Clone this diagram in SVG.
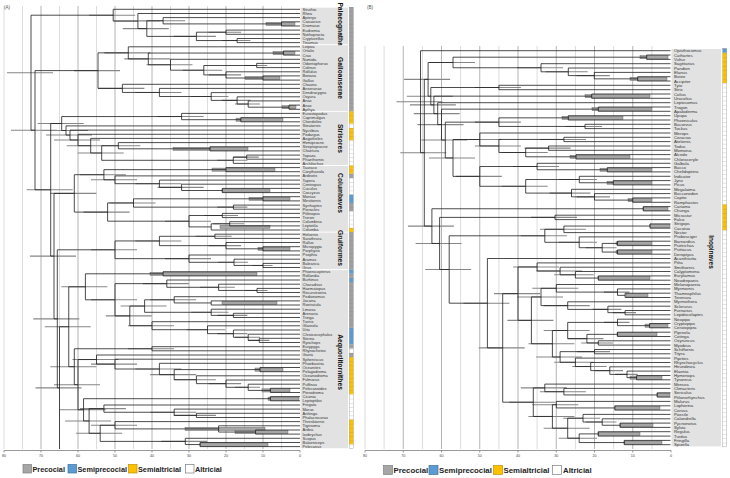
<svg xmlns="http://www.w3.org/2000/svg" width="730" height="478" viewBox="0 0 730 478">
<defs>
<style>
.g5{stroke:#dcdcdc;stroke-width:1}
.g10{stroke:#b4b4b4;stroke-width:1}
.tr{fill:none;stroke:#1e1e1e;stroke-width:0.8}
.wh{fill:none;stroke:#878787;stroke-width:1.1}
.hpd{fill:#a6a6a6;stroke:#5a5a5a;stroke-width:0.4}
.blk{fill:#e2e2e2}
.ta{font-family:"Liberation Sans",Arial,sans-serif;font-size:4px;fill:#333}
.tb{font-family:"Liberation Sans",Arial,sans-serif;font-size:4.3px;fill:#333}
.cl{font-family:"Liberation Sans",Arial,sans-serif;font-weight:bold;font-size:6.7px;fill:#111;text-anchor:middle}
.ax{stroke:#555;stroke-width:0.6;fill:none}
.axt{font-family:"Liberation Sans",Arial,sans-serif;font-size:3.6px;fill:#444;text-anchor:middle}
.lgA{font-family:"Liberation Sans",Arial,sans-serif;font-weight:bold;font-size:7.3px;fill:#222}
.lgB{font-family:"Liberation Sans",Arial,sans-serif;font-weight:bold;font-size:7.8px;fill:#222}
.pl{font-family:"Liberation Sans",Arial,sans-serif;font-size:4.6px;fill:#555}
.cP{fill:#a0a0a0}
.cB{fill:#5b9bd5}
.cY{fill:#ffc000}
.cW{fill:#ffffff}
.lbP{fill:#a6a6a6;stroke:#7f7f7f;stroke-width:0.7}
.lbB{fill:#5b9bd5;stroke:#41719c;stroke-width:0.7}
.lbY{fill:#ffc000;stroke:#bf9000;stroke-width:0.7}
.lbW{fill:#ffffff;stroke:#7f7f7f;stroke-width:0.7}
</style>
<pattern id="cellA" x="349.3" y="7.2" width="4" height="4.165" patternUnits="userSpaceOnUse"><path d="M0 0.15H4" stroke="#777" stroke-width="0.3"/></pattern>
<pattern id="cellB" x="722.7" y="48.5" width="4" height="4.33" patternUnits="userSpaceOnUse"><path d="M0 0.15H4" stroke="#777" stroke-width="0.3"/></pattern>
</defs>
<rect width="730" height="478" fill="#fff"/>

<g id="grid">
<path class="g5" d="M4 6V449M22.5 6V449M59.5 6V449M96.5 6V449M133.5 6V449M170.5 6V449M207.5 6V449M244.5 6V449M281.5 6V449"/>
<path class="g10" d="M41 6V449M78 6V449M115 6V449M152 6V449M189 6V449M226 6V449M263 6V449"/>
<path class="g5" d="M365 46V449M384.1 46V449M422.4 46V449M460.6 46V449M498.9 46V449M537.1 46V449M575.4 46V449M613.6 46V449M651.9 46V449"/>
<path class="g10" d="M403.25 46V449M441.5 46V449M479.75 46V449M518 46V449M556.25 46V449M594.5 46V449M632.75 46V449"/>
</g>

<text class="pl" x="4" y="9">(A)</text>
<text class="pl" x="367" y="9">(B)</text>

<g id="clade-palaeognathae"><rect class="blk" x="300.5" y="7.7" width="47.5" height="36.5"/><text class="cl" transform="translate(340,26) rotate(90)" y="2.4">Palaeognathae</text></g>
<g id="clade-galloanserae"><rect class="blk" x="300.5" y="45.2" width="47.5" height="65.7"/><text class="cl" transform="translate(340,78) rotate(90)" y="2.4">Galloanserae</text></g>
<g id="clade-strisores"><rect class="blk" x="300.5" y="111.8" width="47.5" height="53.2"/><text class="cl" transform="translate(340,138.4) rotate(90)" y="2.4">Strisores</text></g>
<g id="clade-columbaves"><rect class="blk" x="300.5" y="166" width="47.5" height="65.6"/><text class="cl" transform="translate(340,193) rotate(90)" y="2.4">Columbaves</text></g>
<g id="clade-gruiformes"><rect class="blk" x="300.5" y="232.6" width="47.5" height="36.5"/><text class="cl" transform="translate(340,248) rotate(90)" y="2.4">Gruiformes</text></g>
<g id="clade-aequorlitornithes"><rect class="blk" x="300.5" y="270.1" width="47.5" height="178.1"/><text class="cl" transform="translate(340,362) rotate(90)" y="2.4">Aequorlitornithes</text></g>
<g id="clade-inopinaves"><rect class="blk" x="671.5" y="49" width="49.5" height="397.4"/><text class="cl" transform="translate(711.5,252) rotate(90)" y="2.3" style="font-size:6.4px">Inopinaves</text></g>

<g id="hpd">
<path class="wh" d="M139.1 20.75H185.1M208.7 32.2H241.1M221.8 40.55H250.5M173.8 36.4H215.9M122.8 28.6H168.8M113.9 21.05H159.9M89.2 15.2H135.2M244.9 65.5H267.2M208.7 74.9H241.1M182.5 70.2H222.2M146.5 64.75H192.5M124.3 58.9H170.3M104.3 52.85H150.3M234.9 104.05H260M221.8 100.4H250.5M191.2 96.5H228.5M135.4 92.45H181.4M98.4 88.4H144.4M74 70.6H120M7 72.7H53M11 130.2H57M26.7 189.8H72.7M30 256.1H76M33.3 318.85H79.3M35.5 387.9H81.5M157.6 116.55H203.6M233.1 157.15H258.7M217.3 160.3H247.3M94.3 145.7H140.3M77.7 153H123.7M66.7 145.7H112.7M54 140H100M46 135.05H92M42 130.5H88M37.7 123.5H83.7M157.6 187.35H203.6M135.4 183.7H181.4M91 179.8H137M79.9 174.7H125.9M217.4 207.15H247.4M109.5 202.95H155.5M204.3 215.5H238M213 223.8H244.2M165 221.2H211M83.6 212.1H129.6M50.3 193.4H96.3M195.6 236.3H231.7M208.7 245.65H241.1M135.4 240.95H181.4M252.3 265.45H272.6M218.1 262.3H247.9M165 258.65H211M91 249.8H137M245.3 290.45H267.5M199.9 287.3H234.8M142.8 283.65H188.8M150.2 299.8H196.2M217.4 315.4H247.4M191.2 312.3H228.5M120.6 306.05H166.6M248 340.4H269.4M234.9 337.3H260M217.4 333.65H247.4M186.8 329.7H225.4M128 325.7H174M105.8 315.9H151.8M91 299.8H137M61.4 286.8H107.4M128 348.75H174M234.9 387.3H260M208.7 383.65H241.1M173.8 379.7H215.9M150.2 374.65H196.2M135.4 369H181.4M91 364.1H137M72.5 359.55H118.5M173.8 415.4H215.9M150.2 412.25H196.2M79.9 408.6H125.9M91 425.25H137M161.3 441.4H207.3M76.2 433.3H122.2M65.1 420.95H111.1M59.6 409.8H105.6M54 384.7H100M50.3 366.7H96.3M44.75 326.75H90.75"/>
<path class="wh" d="M396.5 101.7H442.5M400.3 152.7H446.3M404.1 79.35H450.1M406.8 96.2H452.8M409.9 104.9H455.9M413.7 113.65H459.7M417.5 124.6H463.5M421.3 140.05H467.3M429 157.95H475M429 62.5H475M474.9 87.5H520.9M474.9 122.15H520.9M565.5 126.45H601.9M455.8 139.5H501.8M474.9 145.95H520.9M539.9 139.45H585.9M524.6 148.15H570.6M501.7 152.5H547.7M455.8 176.4H501.8M513.1 166.5H559.1M501.7 186.3H547.7M558.8 179.5H597.1M576.7 196.85H610M549.6 193.1H590.4M576.5 75.6H609.8M545.8 71.8H587.7M517 67.75H563M407.9 226.1H453.9M415.6 243.45H461.6M425.2 269.5H471.2M531 217.4H577M539.9 229.3H585.9M585.8 247.7H616.5M558.8 242.3H597M520.8 235.8H566.8M463.4 303.2H509.4M478.7 347.9H524.7M494 293.65H540M513.1 266.95H559.1M536.1 271H582.1M554.2 274.8H593.7M507.4 320.35H553.4M517 296.95H563M532.3 288.3H578.3M603.9 292.1H629.5M543.7 305.6H589.7M592.5 309.4H621.4M612.8 312.65H636M528.4 343.75H574.4M543.7 330.5H589.7M603.9 322.4H629.5M567.8 338.65H603.5M581.2 342.95H613.2M536.1 357H582.1M576.7 351.65H610M554.2 362.3H593.7M572.2 366.55H606.7M594.8 370.6H623M615.1 374.4H637.6M509.3 402.2H555.3M520.8 387.9H566.8M539.9 391.7H585.9M528.4 416.45H574.4M532.3 404.7H578.3M543.7 428.2H589.7M563.2 418.2H600.2M585.8 422H616.5M558.8 438.2H597"/>
<rect class="hpd" x="266" y="22.3" width="29" height="3.2"/>
<rect class="hpd" x="273" y="51.45" width="22" height="3.2"/>
<rect class="hpd" x="245" y="76.4" width="35" height="3.2"/>
<rect class="hpd" x="282" y="105.6" width="14" height="3.2"/>
<rect class="hpd" x="236" y="118.1" width="47" height="3.2"/>
<rect class="hpd" x="173" y="147.2" width="75" height="3.2"/>
<rect class="hpd" x="212" y="168.05" width="63" height="3.2"/>
<rect class="hpd" x="222" y="188.9" width="48" height="3.2"/>
<rect class="hpd" x="249" y="197.2" width="41" height="3.2"/>
<rect class="hpd" x="220" y="225.3" width="50" height="3.2"/>
<rect class="hpd" x="258" y="247.2" width="32" height="3.2"/>
<rect class="hpd" x="150" y="272.2" width="107" height="3.2"/>
<rect class="hpd" x="222" y="301.35" width="55" height="3.2"/>
<rect class="hpd" x="255" y="368" width="28" height="3.2"/>
<rect class="hpd" x="262" y="388.8" width="28" height="3.2"/>
<rect class="hpd" x="268" y="397.1" width="31" height="3.2"/>
<rect class="hpd" x="185" y="427.3" width="80" height="3.2"/>
<rect class="hpd" x="235" y="430.45" width="53" height="3.2"/>
<rect class="hpd" x="200" y="442.95" width="68" height="3.2"/>
<rect class="hpd" x="640" y="55.6" width="28" height="3.2"/>
<rect class="hpd" x="630" y="77.25" width="37" height="3.2"/>
<rect class="hpd" x="585" y="94.55" width="65" height="3.2"/>
<rect class="hpd" x="592" y="107.55" width="60" height="3.2"/>
<rect class="hpd" x="562" y="116.25" width="61" height="3.2"/>
<rect class="hpd" x="570" y="155.2" width="60" height="3.2"/>
<rect class="hpd" x="600" y="168.15" width="52" height="3.2"/>
<rect class="hpd" x="607" y="181.15" width="45" height="3.2"/>
<rect class="hpd" x="628" y="198.5" width="24" height="3.2"/>
<rect class="hpd" x="643" y="207.15" width="25" height="3.2"/>
<rect class="hpd" x="650" y="224.45" width="20" height="3.2"/>
<rect class="hpd" x="616" y="241.8" width="36" height="3.2"/>
<rect class="hpd" x="616" y="250.45" width="36" height="3.2"/>
<rect class="hpd" x="598" y="276.45" width="52" height="3.2"/>
<rect class="hpd" x="626" y="293.75" width="22" height="3.2"/>
<rect class="hpd" x="645" y="324.05" width="23" height="3.2"/>
<rect class="hpd" x="617" y="332.75" width="40" height="3.2"/>
<rect class="hpd" x="630" y="376.05" width="32" height="3.2"/>
<rect class="hpd" x="657" y="393.35" width="13" height="3.2"/>
<rect class="hpd" x="615" y="406.35" width="45" height="3.2"/>
<rect class="hpd" x="620" y="423.65" width="33" height="3.2"/>
<rect class="hpd" x="598" y="432.3" width="42" height="3.2"/>
<rect class="hpd" x="624" y="440.95" width="38" height="3.2"/>
</g>

<g id="connectors">
<path class="tr" d="M300 21.8H281.5V26H300M300 17.6H163.1V23.9H281.5M300 30.1H226V34.3H300M300 38.5H237.1V42.6H300M226 32.2H196.4V40.55H237.1M163.1 20.75H146.8V36.4H196.4M300 13.5H137.9V28.6H146.8M300 9.3H113.2V21.05H137.9M300 51H283.4V55.1H300M300 63.4H256.7V67.6H300M300 75.9H263V80.1H300M300 71.8H226V78H263M256.7 65.5H203.8V74.9H226M300 59.3H170.5V70.2H203.8M283.4 53.05H148.3V64.75H170.5M300 46.8H128.3V58.9H148.3M300 105.1H289V109.3H300M300 100.9H248.2V107.2H289M300 96.8H237.1V104.05H248.2M300 92.6H211.2V100.4H237.1M300 88.4H159.4V96.5H211.2M300 84.3H122.4V92.45H159.4M128.3 52.85H98V88.4H122.4"/>
<path class="tr" d="M300 117.6H240.8V121.8H300M300 113.4H181.6V119.7H240.8M300 155.1H246.7V159.2H300M246.7 157.15H233.3V163.4H300M300 146.7H210V150.9H300M300 142.6H118.3V148.8H210M118.3 145.7H101.7V160.3H233.3M300 138.4H90.7V153H101.7M300 134.3H78V145.7H90.7M300 130.1H70V140H78M300 125.9H66V135.05H70M181.6 116.55H61.7V130.5H66"/>
<path class="tr" d="M300 167.6H226V171.7H300M300 188.4H222.3V192.6H300M300 184.2H181.6V190.5H222.3M300 180.1H159.4V187.35H181.6M300 175.9H115V183.7H159.4M226 169.65H103.9V179.8H115M300 196.7H263V200.9H300M300 205.1H233.4V209.2H300M263 198.8H133.5V207.15H233.4M300 213.4H222.3V217.6H300M300 221.7H229.7V225.9H300M229.7 223.8H211.2V230H300M222.3 215.5H189V226.9H211.2M133.5 202.95H107.6V221.2H189M103.9 174.7H74.3V212.1H107.6"/>
<path class="tr" d="M300 234.2H214.9V238.4H300M300 246.7H263V250.9H300M300 242.5H226V248.8H263M214.9 236.3H159.4V245.65H226M300 263.4H263V267.5H300M300 259.2H234V265.45H263M300 255H189V262.3H234M159.4 240.95H115V258.65H189"/>
<path class="tr" d="M300 271.7H163.1V275.9H300M300 288.4H257V292.5H300M300 284.2H218.6V290.45H257M300 280H166.8V287.3H218.6M300 300.9H211.2V305H300M300 296.7H174.2V302.95H211.2M300 313.3H233.4V317.5H300M300 309.2H211.2V315.4H233.4M174.2 299.8H144.6V312.3H211.2M300 338.3H259.3V342.5H300M300 334.2H248.2V340.4H259.3M300 330H233.4V337.3H248.2M300 325.8H207.5V333.65H233.4M300 321.7H152V329.7H207.5M144.6 306.05H129.8V325.7H152M166.8 283.65H115V315.9H129.8M163.1 273.8H85.4V299.8H115M300 346.7H152V350.8H300M300 367.5H260V371.7H300M300 388.3H270.4V392.5H300M300 384.2H248.2V390.4H270.4M300 380H226V387.3H248.2M300 375.8H196.4V383.65H226M260 369.6H174.2V379.7H196.4M300 363.3H159.4V374.65H174.2M300 359.2H115V369H159.4M300 355H96.5V364.1H115M300 396.6H270.4V400.8H300M300 413.3H196.4V417.5H300M300 409.1H174.2V415.4H196.4M300 405H103.9V412.25H174.2M300 430H255.6V434.1H300M300 425.8H218.6V432.05H255.6M300 421.6H115V428.9H218.6M300 442.5H200.1V446.6H300M300 438.3H185.3V444.55H200.1M115 425.25H100.2V441.4H185.3M103.9 408.6H89.1V433.3H100.2M270.4 398.7H83.55V420.95H89.1M96.5 359.55H78V409.8H83.55M152 348.75H74.3V384.7H78M85.4 286.8H68.75V366.7H74.3"/>
<path class="tr" d="M68.75 326.75H59.5V449M115 249.8H57.3V387.9H59.5M74.3 193.4H54V318.85H57.3M61.7 123.5H50.7V256.1H54M98 70.6H35V189.8H50.7M113.2 15.2H31V130.2H35"/>
<path class="tr" d="M670.5 55H646.7V59.4H670.5M670.5 76.7H637.7V81H670.5M670.5 72.4H594.3V78.85H637.7M670.5 68H568.3V75.6H594.3M670.5 63.7H541V71.8H568.3M646.7 57.2H453V67.75H541M670.5 85.3H498.9V89.7H670.5M670.5 94H591.7V98.3H670.5M670.5 107H598.3V111.3H670.5M670.5 115.7H568.3V120H670.5M670.5 124.3H585V128.6H670.5M568.3 117.85H498.9V126.45H585M670.5 137.3H563.9V141.6H670.5M670.5 146H548.6V150.3H670.5M670.5 154.6H576V159H670.5M548.6 148.15H525.7V156.8H576M563.9 139.45H498.9V152.5H525.7M670.5 133H479.8V145.95H498.9M670.5 167.6H607.3V171.9H670.5M670.5 163.3H537.1V169.75H607.3M670.5 180.6H613.3V184.9H670.5M670.5 176.3H579.3V182.75H613.3M670.5 197.9H632.7V202.3H670.5M670.5 193.6H594.5V200.1H632.7M670.5 189.3H571.5V196.85H594.5M579.3 179.5H525.7V193.1H571.5M537.1 166.5H479.8V186.3H525.7M479.8 139.5H453V176.4H479.8M498.9 122.15H445.3V157.95H453M598.3 109.15H441.5V140.05H445.3M670.5 102.7H437.7V124.6H441.5M591.7 96.15H433.9V113.65H437.7M498.9 87.5H430.8V104.9H433.9M453 62.5H428.1V96.2H430.8"/>
<path class="tr" d="M670.5 206.6H643.3V210.9H670.5M670.5 215.2H555V219.6H670.5M670.5 223.9H650V228.2H670.5M650 226.05H563.9V232.6H670.5M670.5 241.2H617.5V245.6H670.5M670.5 249.9H617.5V254.2H670.5M617.5 243.4H602.2V252.05H617.5M670.5 236.9H579.2V247.7H602.2M563.9 229.3H544.8V242.3H579.2M670.5 275.9H598.3V280.2H670.5M670.5 271.5H575.4V278.05H598.3M670.5 267.2H560.1V274.8H575.4M670.5 262.9H537.1V271H560.1M670.5 293.2H625.1V297.5H670.5M670.5 288.9H617.5V295.35H625.1M670.5 284.5H556.3V292.1H617.5M670.5 310.5H625.1V314.8H670.5M670.5 306.2H607.9V312.65H625.1M670.5 301.8H567.7V309.4H607.9M556.3 288.3H541V305.6H567.7M670.5 323.5H649.6V327.8H670.5M670.5 319.2H617.5V325.65H649.6M670.5 332.2H617.5V336.5H670.5M670.5 340.8H598.3V345.1H670.5M617.5 334.35H586.9V342.95H598.3M617.5 322.4H567.7V338.65H586.9M670.5 349.5H594.5V353.8H670.5M670.5 375.5H636.6V379.8H670.5M670.5 371.1H627V377.65H636.6M670.5 366.8H609.8V374.4H627M670.5 362.5H590.7V370.6H609.8M670.5 358.1H575.4V366.55H590.7M594.5 351.65H560.1V362.3H575.4M567.7 330.5H552.4V357H560.1M541 296.95H531.4V343.75H552.4M537.1 266.95H518V320.35H531.4M670.5 392.8H657.2V397.1H670.5M670.5 388.4H563.9V394.95H657.2M670.5 384.1H544.8V391.7H563.9M670.5 405.8H614.8V410.1H670.5M670.5 401.4H556.3V407.95H614.8M670.5 423.1H620.1V427.4H670.5M670.5 418.8H602.2V425.25H620.1M670.5 414.4H583V422H602.2M670.5 431.7H598.3V436.1H670.5M670.5 440.4H624.3V444.7H670.5M598.3 433.9H579.2V442.55H624.3M583 418.2H567.7V438.2H579.2M556.3 404.7H552.4V428.2H567.7M544.8 387.9H533.3V416.45H552.4M518 293.65H502.7V402.2H533.3M670.5 258.5H487.4V347.9H502.7M544.8 235.8H449.2V303.2H487.4M555 217.4H439.6V269.5H449.2M643.3 208.75H431.9V243.45H439.6M428.1 79.35H424.3V226.1H431.9M670.5 50.7H420.5V152.7H424.3"/>
</g>

<g id="taxa-A" class="ta">
<text x="302.5" y="10.7">Struthio</text><text x="302.5" y="14.9">Rhea</text><text x="302.5" y="19">Apteryx</text><text x="302.5" y="23.2">Casuarius</text><text x="302.5" y="27.4">Dromaius</text><text x="302.5" y="31.5">Eudromia</text><text x="302.5" y="35.7">Nothoprocta</text><text x="302.5" y="39.9">Crypturellus</text><text x="302.5" y="44">Tinamus</text>
<text x="302.5" y="48.2">Leipoa</text><text x="302.5" y="52.4">Ortalis</text><text x="302.5" y="56.5">Crax</text><text x="302.5" y="60.7">Numida</text><text x="302.5" y="64.8">Odontophorus</text><text x="302.5" y="69">Colinus</text><text x="302.5" y="73.2">Rollulus</text><text x="302.5" y="77.3">Bonasa</text><text x="302.5" y="81.5">Gallus</text><text x="302.5" y="85.7">Chauna</text><text x="302.5" y="89.8">Anseranas</text><text x="302.5" y="94">Dendrocygna</text><text x="302.5" y="98.2">Oxyura</text><text x="302.5" y="102.3">Anas</text><text x="302.5" y="106.5">Anas</text><text x="302.5" y="110.7">Aythya</text>
<text x="302.5" y="114.8">Eurostopodus</text><text x="302.5" y="119">Caprimulgus</text><text x="302.5" y="123.2">Chordeiles</text><text x="302.5" y="127.3">Steatornis</text><text x="302.5" y="131.5">Nyctibius</text><text x="302.5" y="135.7">Podargus</text><text x="302.5" y="139.8">Aegotheles</text><text x="302.5" y="144">Hemiprocne</text><text x="302.5" y="148.1">Streptoprocne</text><text x="302.5" y="152.3">Chaetura</text><text x="302.5" y="156.5">Topaza</text><text x="302.5" y="160.6">Phaethornis</text><text x="302.5" y="164.8">Archilochus</text>
<text x="302.5" y="169">Tauraco</text><text x="302.5" y="173.1">Corythaeola</text><text x="302.5" y="177.3">Ardeotis</text><text x="302.5" y="181.5">Tapera</text><text x="302.5" y="185.6">Centropus</text><text x="302.5" y="189.8">Cuculus</text><text x="302.5" y="194">Coccyzus</text><text x="302.5" y="198.1">Monias</text><text x="302.5" y="202.3">Mesitornis</text><text x="302.5" y="206.5">Syrrhaptes</text><text x="302.5" y="210.6">Pterocles</text><text x="302.5" y="214.8">Ptilinopus</text><text x="302.5" y="219">Treron</text><text x="302.5" y="223.1">Columbina</text><text x="302.5" y="227.3">Leptotila</text><text x="302.5" y="231.4">Columba</text>
<text x="302.5" y="235.6">Heliornis</text><text x="302.5" y="239.8">Sarothrura</text><text x="302.5" y="243.9">Rallus</text><text x="302.5" y="248.1">Micropygia</text><text x="302.5" y="252.3">Porphyrio</text><text x="302.5" y="256.4">Psophia</text><text x="302.5" y="260.6">Aramus</text><text x="302.5" y="264.8">Balearica</text><text x="302.5" y="268.9">Grus</text>
<text x="302.5" y="273.1">Phoenicopterus</text><text x="302.5" y="277.3">Rollandia</text><text x="302.5" y="281.4">Burhinus</text><text x="302.5" y="285.6">Charadrius</text><text x="302.5" y="289.8">Haematopus</text><text x="302.5" y="293.9">Recurvirostra</text><text x="302.5" y="298.1">Pedionomus</text><text x="302.5" y="302.3">Jacana</text><text x="302.5" y="306.4">Rostratula</text><text x="302.5" y="310.6">Limosa</text><text x="302.5" y="314.7">Arenaria</text><text x="302.5" y="318.9">Tringa</text><text x="302.5" y="323.1">Turnix</text><text x="302.5" y="327.2">Glareola</text><text x="302.5" y="331.4">Uria</text><text x="302.5" y="335.6">Chroicocephalus</text><text x="302.5" y="339.7">Sterna</text><text x="302.5" y="343.9">Rynchops</text><text x="302.5" y="348.1">Eurypyga</text><text x="302.5" y="352.2">Rhynochetos</text><text x="302.5" y="356.4">Gavia</text><text x="302.5" y="360.6">Spheniscus</text><text x="302.5" y="364.7">Phoebastria</text><text x="302.5" y="368.9">Oceanites</text><text x="302.5" y="373.1">Pelagodroma</text><text x="302.5" y="377.2">Oceanodroma</text><text x="302.5" y="381.4">Fulmarus</text><text x="302.5" y="385.6">Puffinus</text><text x="302.5" y="389.7">Pelecanoides</text><text x="302.5" y="393.9">Pterodroma</text><text x="302.5" y="398">Ciconia</text><text x="302.5" y="402.2">Leptoptilos</text><text x="302.5" y="406.4">Fregata</text><text x="302.5" y="410.5">Morus</text><text x="302.5" y="414.7">Anhinga</text><text x="302.5" y="418.9">Phalacrocorax</text><text x="302.5" y="423">Threskiornis</text><text x="302.5" y="427.2">Tigrisoma</text><text x="302.5" y="431.4">Ardea</text><text x="302.5" y="435.5">Ixobrychus</text><text x="302.5" y="439.7">Scopus</text><text x="302.5" y="443.9">Balaeniceps</text><text x="302.5" y="448">Pelecanus</text>
</g>

<g id="taxa-B" class="tb">
<text x="674" y="52.2">Opisthocomus</text><text x="674" y="56.5">Cathartes</text><text x="674" y="60.9">Vultur</text><text x="674" y="65.2">Sagittarius</text><text x="674" y="69.5">Pandion</text><text x="674" y="73.9">Elanus</text><text x="674" y="78.2">Buteo</text><text x="674" y="82.5">Accipiter</text><text x="674" y="86.8">Tyto</text><text x="674" y="91.2">Strix</text><text x="674" y="95.5">Colius</text><text x="674" y="99.8">Urocolius</text><text x="674" y="104.2">Leptosomus</text><text x="674" y="108.5">Trogon</text><text x="674" y="112.8">Apaloderma</text><text x="674" y="117.2">Upupa</text><text x="674" y="121.5">Phoeniculus</text><text x="674" y="125.8">Bucorvus</text><text x="674" y="130.1">Tockus</text><text x="674" y="134.5">Merops</text><text x="674" y="138.8">Coracias</text><text x="674" y="143.1">Atelornis</text><text x="674" y="147.5">Todus</text><text x="674" y="151.8">Momotus</text><text x="674" y="156.1">Alcedo</text><text x="674" y="160.5">Chloroceryle</text><text x="674" y="164.8">Galbula</text><text x="674" y="169.1">Bucco</text><text x="674" y="173.4">Chelidoptera</text><text x="674" y="177.8">Indicator</text><text x="674" y="182.1">Jynx</text><text x="674" y="186.4">Picus</text><text x="674" y="190.8">Megalaima</text><text x="674" y="195.1">Buccanodon</text><text x="674" y="199.4">Capito</text><text x="674" y="203.8">Ramphastos</text>
<text x="674" y="208.1">Cariama</text><text x="674" y="212.4">Chunga</text><text x="674" y="216.7">Micrastur</text><text x="674" y="221.1">Falco</text><text x="674" y="225.4">Strigops</text><text x="674" y="229.7">Cacatua</text><text x="674" y="234.1">Nestor</text><text x="674" y="238.4">Probosciger</text><text x="674" y="242.7">Barnardius</text><text x="674" y="247.1">Psittrichas</text><text x="674" y="251.4">Psittacus</text><text x="674" y="255.7">Deroptyus</text><text x="674" y="260">Acanthisitta</text><text x="674" y="264.4">Pitta</text><text x="674" y="268.7">Smithornis</text><text x="674" y="273">Calyptomena</text><text x="674" y="277.4">Eurylaimus</text><text x="674" y="281.7">Neodrepanis</text><text x="674" y="286">Melanopareia</text><text x="674" y="290.4">Myrmornis</text><text x="674" y="294.7">Thamnophilus</text><text x="674" y="299">Terenura</text><text x="674" y="303.3">Myrmothera</text><text x="674" y="307.7">Sclerurus</text><text x="674" y="312">Furnarius</text><text x="674" y="316.3">Lepidocolaptes</text><text x="674" y="320.7">Neopipo</text><text x="674" y="325">Cryptopipo</text><text x="674" y="329.3">Ceratopipra</text><text x="674" y="333.7">Pipreola</text><text x="674" y="338">Cotinga</text><text x="674" y="342.3">Oxyruncus</text><text x="674" y="346.6">Myiobius</text><text x="674" y="351">Schiffornis</text><text x="674" y="355.3">Tityra</text><text x="674" y="359.6">Piprites</text><text x="674" y="364">Rhynchocyclus</text><text x="674" y="368.3">Hirundinea</text><text x="674" y="372.6">Elaenia</text><text x="674" y="377">Hymenops</text><text x="674" y="381.3">Tyrannus</text><text x="674" y="385.6">Menura</text><text x="674" y="389.9">Climacteris</text><text x="674" y="394.3">Sericulus</text><text x="674" y="398.6">Ptilonorhynchus</text><text x="674" y="402.9">Malurus</text><text x="674" y="407.3">Lophorina</text><text x="674" y="411.6">Corvus</text><text x="674" y="415.9">Poecile</text><text x="674" y="420.3">Calandrella</text><text x="674" y="424.6">Pycnonotus</text><text x="674" y="428.9">Sylvia</text><text x="674" y="433.2">Regulus</text><text x="674" y="437.6">Turdus</text><text x="674" y="441.9">Fringilla</text><text x="674" y="446.2">Spizella</text>
</g>

<g id="development-A">
<rect class="cP" x="349.3" y="7.2" width="4" height="104.1"/>
<rect class="cY" x="349.3" y="111.3" width="4" height="12.5"/>
<rect class="cW" x="349.3" y="123.8" width="4" height="4.2"/>
<rect class="cY" x="349.3" y="128" width="4" height="12.5"/>
<rect class="cW" x="349.3" y="140.5" width="4" height="25"/>
<rect class="cY" x="349.3" y="165.5" width="4" height="8.3"/>
<rect class="cP" x="349.3" y="173.8" width="4" height="4.2"/>
<rect class="cW" x="349.3" y="178" width="4" height="16.6"/>
<rect class="cB" x="349.3" y="194.6" width="4" height="8.35"/>
<rect class="cP" x="349.3" y="202.95" width="4" height="8.35"/>
<rect class="cW" x="349.3" y="211.3" width="4" height="16.65"/>
<rect class="cY" x="349.3" y="227.95" width="4" height="4.15"/>
<rect class="cP" x="349.3" y="232.1" width="4" height="37.5"/>
<rect class="cB" x="349.3" y="269.6" width="4" height="4.2"/>
<rect class="cP" x="349.3" y="273.8" width="4" height="4.1"/>
<rect class="cB" x="349.3" y="277.9" width="4" height="4.2"/>
<rect class="cP" x="349.3" y="282.1" width="4" height="45.8"/>
<rect class="cB" x="349.3" y="327.9" width="4" height="16.7"/>
<rect class="cP" x="349.3" y="344.6" width="4" height="4.1"/>
<rect class="cW" x="349.3" y="348.7" width="4" height="4.2"/>
<rect class="cP" x="349.3" y="352.9" width="4" height="4.2"/>
<rect class="cY" x="349.3" y="357.1" width="4" height="37.4"/>
<rect class="cW" x="349.3" y="394.5" width="4" height="25"/>
<rect class="cY" x="349.3" y="419.5" width="4" height="25"/>
<rect class="cW" x="349.3" y="444.5" width="4" height="4.2"/>
<rect x="349.3" y="7.2" width="4" height="441.5" fill="url(#cellA)" stroke="#777" stroke-width="0.3"/>
</g>
<g id="development-B">
<rect class="cB" x="722.7" y="48.5" width="4" height="4.3"/>
<rect class="cY" x="722.7" y="52.8" width="4" height="30.3"/>
<rect class="cW" x="722.7" y="83.1" width="4" height="121.3"/>
<rect class="cY" x="722.7" y="204.4" width="4" height="26"/>
<rect class="cW" x="722.7" y="230.4" width="4" height="216.5"/>
<rect x="722.7" y="48.5" width="4" height="398.4" fill="url(#cellB)" stroke="#777" stroke-width="0.3"/>
</g>

<g id="axis-A">
<path class="ax" d="M4 450.5H300M4 450.5v2M41 450.5v2M78 450.5v2M115 450.5v2M152 450.5v2M189 450.5v2M226 450.5v2M263 450.5v2M300 450.5v2"/>
<text class="axt" x="4" y="457">80</text><text class="axt" x="41" y="457">70</text><text class="axt" x="78" y="457">60</text><text class="axt" x="115" y="457">50</text><text class="axt" x="152" y="457">40</text><text class="axt" x="189" y="457">30</text><text class="axt" x="226" y="457">20</text><text class="axt" x="263" y="457">10</text><text class="axt" x="300" y="457">0</text>
</g>
<g id="axis-B">
<path class="ax" d="M365 450.5H671M365 450.5v2M403.25 450.5v2M441.5 450.5v2M479.75 450.5v2M518 450.5v2M556.25 450.5v2M594.5 450.5v2M632.75 450.5v2M671 450.5v2"/>
<text class="axt" x="365" y="457">80</text><text class="axt" x="403.25" y="457">70</text><text class="axt" x="441.5" y="457">60</text><text class="axt" x="479.75" y="457">50</text><text class="axt" x="518" y="457">40</text><text class="axt" x="556.25" y="457">30</text><text class="axt" x="594.5" y="457">20</text><text class="axt" x="632.75" y="457">10</text><text class="axt" x="671" y="457">0</text>
</g>

<g id="legend-A">
<rect class="lbP" x="23" y="464.5" width="8.5" height="8.5"/><text class="lgA" x="32.5" y="471.8">Precocial</text>
<rect class="lbB" x="68" y="464.5" width="8.5" height="8.5"/><text class="lgA" x="77.5" y="471.8">Semiprecocial</text>
<rect class="lbY" x="128.5" y="464.5" width="8.5" height="8.5"/><text class="lgA" x="138" y="471.8">Semialtricial</text>
<rect class="lbW" x="185.5" y="464.5" width="8.5" height="8.5"/><text class="lgA" x="195" y="471.8">Altricial</text>
</g>
<g id="legend-B">
<rect class="lbP" x="383.5" y="465.5" width="9" height="9"/><text class="lgB" x="393.5" y="473.3">Precocial</text>
<rect class="lbB" x="429" y="465.5" width="9" height="9"/><text class="lgB" x="439" y="473.3">Semiprecocial</text>
<rect class="lbY" x="493.5" y="465.5" width="9" height="9"/><text class="lgB" x="503.5" y="473.3">Semialtricial</text>
<rect class="lbW" x="552.5" y="465.5" width="9" height="9"/><text class="lgB" x="563" y="473.3">Altricial</text>
</g>
</svg>
